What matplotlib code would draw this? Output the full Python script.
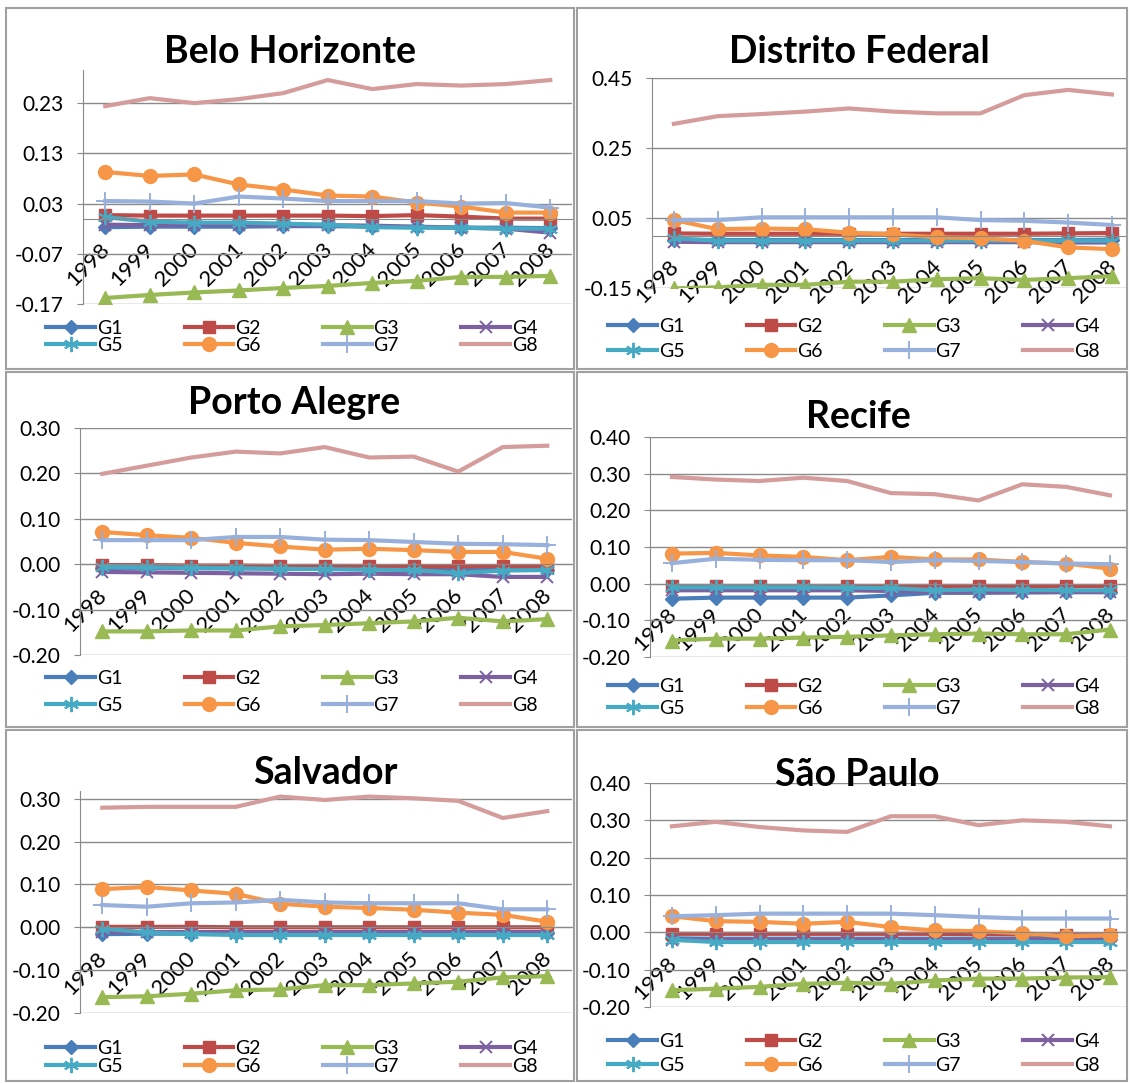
import matplotlib
matplotlib.use('Agg')
import matplotlib.pyplot as plt
from matplotlib.patches import Rectangle
from matplotlib.ticker import FormatStrFormatter
from matplotlib.transforms import ScaledTranslation

plt.rcParams['font.family'] = ['Lato', 'DejaVu Sans']

years = ['1998', '1999', '2000', '2001', '2002', '2003', '2004', '2005', '2006', '2007', '2008']
groups = ['G1', 'G2', 'G3', 'G4', 'G5', 'G6', 'G7', 'G8']
cities = ['Belo Horizonte', 'Distrito Federal', 'Porto Alegre', 'Recife', 'Salvador', 'São Paulo']

# rows are G1..G8, columns 1998..2008
belo_horizonte = [
    [-0.017, -0.016, -0.016, -0.016, -0.015, -0.015, -0.016, -0.017, -0.018, -0.018, -0.019],
    [0.007, 0.006, 0.006, 0.006, 0.006, 0.006, 0.005, 0.007, 0.004, 0.000, 0.000],
    [-0.158, -0.152, -0.147, -0.143, -0.138, -0.134, -0.128, -0.124, -0.116, -0.116, -0.114],
    [-0.012, -0.013, -0.012, -0.012, -0.013, -0.013, -0.014, -0.016, -0.018, -0.020, -0.028],
    [0.003, -0.006, -0.008, -0.008, -0.010, -0.012, -0.017, -0.018, -0.018, -0.020, -0.020],
    [0.093, 0.085, 0.088, 0.068, 0.058, 0.046, 0.044, 0.032, 0.024, 0.012, 0.012],
    [0.035, 0.034, 0.030, 0.044, 0.040, 0.035, 0.035, 0.035, 0.030, 0.031, 0.022],
    [0.224, 0.240, 0.230, 0.238, 0.250, 0.276, 0.258, 0.268, 0.265, 0.268, 0.276],
]
distrito_federal = [
    [-0.012, -0.013, -0.013, -0.013, -0.013, -0.013, -0.013, -0.013, -0.013, -0.013, -0.012],
    [0.006, 0.005, 0.005, 0.005, 0.005, 0.005, 0.005, 0.005, 0.005, 0.006, 0.007],
    [-0.151, -0.148, -0.141, -0.141, -0.132, -0.132, -0.125, -0.122, -0.127, -0.122, -0.116],
    [-0.018, -0.019, -0.019, -0.019, -0.019, -0.019, -0.019, -0.019, -0.019, -0.020, -0.020],
    [-0.008, -0.015, -0.015, -0.015, -0.015, -0.015, -0.015, -0.015, -0.015, -0.015, -0.015],
    [0.044, 0.018, 0.020, 0.018, 0.008, 0.003, -0.005, -0.008, -0.015, -0.034, -0.039],
    [0.044, 0.044, 0.052, 0.052, 0.052, 0.052, 0.052, 0.044, 0.042, 0.037, 0.030],
    [0.319, 0.341, 0.347, 0.354, 0.363, 0.354, 0.349, 0.349, 0.401, 0.416, 0.403],
]
porto_alegre = [
    [-0.008, -0.008, -0.009, -0.009, -0.010, -0.010, -0.010, -0.011, -0.011, -0.012, -0.012],
    [-0.002, -0.002, -0.003, -0.003, -0.004, -0.004, -0.004, -0.005, -0.005, -0.004, -0.005],
    [-0.148, -0.148, -0.146, -0.146, -0.137, -0.134, -0.130, -0.126, -0.118, -0.126, -0.121],
    [-0.017, -0.018, -0.019, -0.020, -0.021, -0.022, -0.021, -0.022, -0.022, -0.028, -0.028],
    [-0.006, -0.007, -0.008, -0.009, -0.010, -0.011, -0.012, -0.013, -0.020, -0.014, -0.013],
    [0.071, 0.064, 0.058, 0.047, 0.039, 0.032, 0.034, 0.031, 0.027, 0.027, 0.012],
    [0.053, 0.053, 0.053, 0.060, 0.060, 0.054, 0.053, 0.049, 0.045, 0.044, 0.042],
    [0.199, 0.217, 0.235, 0.248, 0.244, 0.258, 0.235, 0.237, 0.204, 0.258, 0.261],
]
recife = [
    [-0.041, -0.038, -0.038, -0.038, -0.038, -0.032, -0.025, -0.025, -0.024, -0.023, -0.023],
    [-0.005, -0.005, -0.005, -0.005, -0.005, -0.005, -0.005, -0.005, -0.005, -0.005, -0.005],
    [-0.155, -0.150, -0.150, -0.147, -0.145, -0.141, -0.138, -0.136, -0.138, -0.138, -0.125],
    [-0.018, -0.018, -0.018, -0.018, -0.018, -0.020, -0.023, -0.023, -0.023, -0.023, -0.023],
    [-0.010, -0.010, -0.010, -0.010, -0.011, -0.012, -0.018, -0.016, -0.017, -0.018, -0.018],
    [0.082, 0.084, 0.077, 0.073, 0.064, 0.073, 0.066, 0.066, 0.059, 0.055, 0.041],
    [0.056, 0.068, 0.065, 0.064, 0.064, 0.059, 0.064, 0.062, 0.059, 0.055, 0.053],
    [0.291, 0.284, 0.280, 0.289, 0.280, 0.247, 0.244, 0.227, 0.271, 0.264, 0.241],
]
salvador = [
    [-0.016, -0.015, -0.015, -0.014, -0.014, -0.014, -0.014, -0.014, -0.014, -0.013, -0.013],
    [0.001, 0.001, 0.001, 0.000, 0.000, 0.000, 0.000, 0.000, 0.000, 0.000, 0.000],
    [-0.163, -0.161, -0.155, -0.147, -0.145, -0.135, -0.135, -0.131, -0.127, -0.117, -0.114],
    [-0.012, -0.012, -0.012, -0.012, -0.012, -0.012, -0.012, -0.012, -0.012, -0.012, -0.012],
    [-0.003, -0.012, -0.016, -0.018, -0.018, -0.018, -0.018, -0.018, -0.018, -0.018, -0.018],
    [0.089, 0.094, 0.086, 0.078, 0.055, 0.048, 0.045, 0.041, 0.034, 0.029, 0.013],
    [0.052, 0.048, 0.056, 0.058, 0.064, 0.058, 0.056, 0.056, 0.056, 0.042, 0.042],
    [0.279, 0.281, 0.281, 0.281, 0.305, 0.297, 0.305, 0.301, 0.295, 0.255, 0.271],
]
sao_paulo = [
    [-0.016, -0.017, -0.017, -0.017, -0.017, -0.017, -0.017, -0.017, -0.018, -0.018, -0.018],
    [-0.004, -0.004, -0.004, -0.004, -0.004, -0.004, -0.004, -0.005, -0.006, -0.008, -0.008],
    [-0.155, -0.151, -0.146, -0.138, -0.135, -0.138, -0.129, -0.124, -0.124, -0.121, -0.120],
    [-0.021, -0.021, -0.021, -0.021, -0.021, -0.021, -0.021, -0.021, -0.021, -0.021, -0.021],
    [-0.020, -0.026, -0.026, -0.026, -0.026, -0.026, -0.026, -0.026, -0.026, -0.026, -0.026],
    [0.043, 0.030, 0.028, 0.023, 0.028, 0.014, 0.005, 0.003, -0.002, -0.011, -0.008],
    [0.043, 0.046, 0.050, 0.050, 0.050, 0.050, 0.046, 0.041, 0.037, 0.037, 0.037],
    [0.284, 0.296, 0.282, 0.273, 0.269, 0.311, 0.311, 0.287, 0.300, 0.296, 0.284],
]
city_data = [belo_horizonte, distrito_federal, porto_alegre, recife, salvador, sao_paulo]

colors = ['#4A7EBB', '#BE4B48', '#98B954', '#7D60A0', '#46AAC5', '#F79646', '#98B0DC', '#D49C9B']
markers = ['D', 's', '^', 'x', (6, 2, 0), 'o', '+', '']
msizes = [7.5, 9, 10, 9, 11, 10, 13, 0]

W, H = 1130, 1083

# pixel boxes of each panel: (left, right, top, bottom)
panels = [(6, 574, 8, 369), (577, 1127, 8, 369),
          (6, 574, 372, 727), (577, 1127, 372, 727),
          (6, 574, 730, 1081), (577, 1127, 730, 1081)]
# plot areas: (left, right, top, bottom)
areas = [(83, 572, 70, 304), (652, 1126, 78, 288),
         (80, 572, 428, 655), (650, 1126, 437, 657),
         (80, 572, 791, 1013), (650, 1126, 783, 1007)]
steps = [44.5, 43.8, 44.5, 43.8, 44.5, 43.8]
ylims = [(-0.17, 0.296), (-0.15, 0.45), (-0.2, 0.3), (-0.2, 0.4), (-0.2, 0.318), (-0.2, 0.4)]
yticks = [[-0.17, -0.07, 0.03, 0.13, 0.23], [-0.15, 0.05, 0.25, 0.45],
          [-0.2, -0.1, 0.0, 0.1, 0.2, 0.3], [-0.2, -0.1, 0.0, 0.1, 0.2, 0.3, 0.4],
          [-0.2, -0.1, 0.0, 0.1, 0.2, 0.3], [-0.2, -0.1, 0.0, 0.1, 0.2, 0.3, 0.4]]
titles_xy = [(290, 52), (859, 52), (294, 403), (858, 417), (325, 773), (857, 775)]
legend_rows = [(327, 347), (325, 353), (677, 707), (685, 710), (1047, 1068), (1040, 1067)]

fig = plt.figure(figsize=(W / 100, H / 100), dpi=100)
shift = ScaledTranslation(-6 / 100, 0, fig.dpi_scale_trans)

for i, city in enumerate(cities):
    pl, pr, pt, pb = panels[i]
    fig.patches.append(Rectangle((pl / W, 1 - pb / H), (pr - pl) / W, (pb - pt) / H,
                                 transform=fig.transFigure, fill=False,
                                 edgecolor='#a0a0a0', lw=1.5))
    l, r, t, b = areas[i]
    ax = fig.add_axes([l / W, 1 - b / H, (r - l) / W, (b - t) / H])
    ax.set_facecolor('none')
    for k, g in enumerate(groups):
        ax.plot(range(len(years)), city_data[i][k], color=colors[k], lw=3,
                marker=markers[k] if markers[k] else None, ms=msizes[k],
                mew=1.4 if k in (3, 4, 6) else 1, mec=colors[k], label=g,
                solid_joinstyle='round')
    ax.set_xlim(-0.5, (r - l) / steps[i] - 0.5)
    ax.set_ylim(*ylims[i])
    ax.set_yticks(yticks[i])
    ax.yaxis.set_major_formatter(FormatStrFormatter('%.2f'))
    ax.grid(axis='y', color='#8a8a8a', lw=1)
    ax.set_axisbelow(True)
    ax.spines['top'].set_visible(False)
    ax.spines['right'].set_visible(False)
    ax.spines['left'].set_color('#8a8a8a')
    ax.spines['bottom'].set_color('#8a8a8a')
    ax.spines['bottom'].set_position(('data', 0))
    ax.set_xticks(range(len(years)))
    ax.set_xticklabels(years, rotation=45, ha='right', va='top', rotation_mode='anchor')
    ax.tick_params(axis='x', length=0, pad=15, labelsize=16)
    ax.tick_params(axis='y', length=4, color='#8a8a8a', labelsize=15, pad=10)
    for lbl in ax.get_xticklabels():
        lbl.set_transform(lbl.get_transform() + shift)

    tx, ty = titles_xy[i]
    fig.text(tx / W, 1 - ty / H, city, ha='center', va='center',
             fontsize=27, fontweight='bold')

    # legend in row order G1..G4 / G5..G8
    hs, ls = ax.get_legend_handles_labels()
    order = [0, 4, 1, 5, 2, 6, 3, 7]
    r1, r2 = legend_rows[i]
    sep = r2 - r1
    ax.legend([hs[j] for j in order], [ls[j] for j in order], ncol=4,
              loc='center', bbox_to_anchor=(((pl + pr) / 2 + 2) / W, 1 - (r1 + r2) / 2 / H),
              bbox_transform=fig.transFigure, frameon=False, fontsize=14,
              handlelength=2.5, handletextpad=0.1, columnspacing=3.2,
              labelspacing=(sep - 19.5) / 19.5, borderpad=0, borderaxespad=0)

fig.savefig('out.png', dpi=100)
